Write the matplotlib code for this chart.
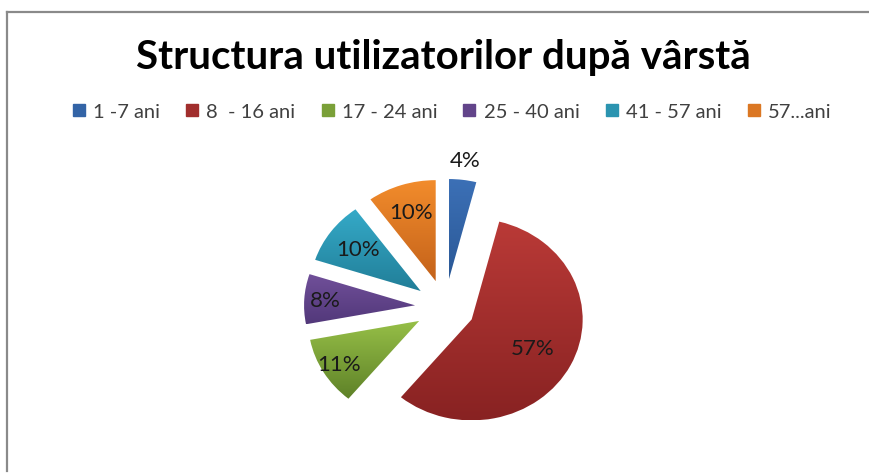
import matplotlib.pyplot as plt
import numpy as np
from matplotlib.colors import to_rgb
from matplotlib.lines import Line2D


GRUPE = ["1 -7 ani", "8  - 16 ani", "17 - 24 ani", "25 - 40 ani", "41 - 57 ani", "57...ani"]
PROCENTE = [4, 57, 11, 8, 10, 10]
TITLU = "Structura utilizatorilor după vârstă"

# culori in stil Excel: sus mai deschis, jos mai inchis
CULORI_SUS = ["#3C70B6", "#BA3A37", "#96BF47", "#71509A", "#35AAC8", "#F28C2C"]
CULORI_JOS = ["#2A5896", "#882222", "#5E8128", "#52387A", "#217E98", "#C4621A"]

# distanta etichetelor fata de centrul fiecarei felii (in raze)
DIST_ETICHETE = [1.2, 0.62, 0.84, 0.81, 0.70, 0.72]
FONT = "Lato"


def umple_gradient(ax, felie, sus, jos):
    sus = np.array(to_rgb(sus))
    jos = np.array(to_rgb(jos))
    t = np.linspace(0, 1, 200)[:, None, None]
    grad = sus * (1 - t) + jos * t

    ext = felie.get_path().get_extents()
    img = ax.imshow(
        grad,
        extent=(ext.x0, ext.x1, ext.y0, ext.y1),
        origin="upper",
        aspect="auto",
        interpolation="bilinear",
        zorder=2,
    )
    img.set_clip_path(felie)
    felie.set_facecolor("none")


def culoare_medie(a, b):
    return tuple((np.array(to_rgb(a)) + np.array(to_rgb(b))) / 2)


def main():
    fig = plt.figure(figsize=(8.7, 4.77), dpi=100)

    # axa pentru placinta: 1 unitate = 111 px pe x, 101 px pe y
    ax = fig.add_axes([0.2563, 0.0367, 0.5103, 0.635])
    felii, _ = ax.pie(
        PROCENTE,
        startangle=90,
        counterclock=False,
        explode=[0.27] * len(PROCENTE),
        wedgeprops=dict(linewidth=0),
    )

    for i, felie in enumerate(felii):
        umple_gradient(ax, felie, CULORI_SUS[i], CULORI_JOS[i])
        unghi = np.radians((felie.theta1 + felie.theta2) / 2)
        cx, cy = felie.center
        ax.text(
            cx + DIST_ETICHETE[i] * np.cos(unghi),
            cy + DIST_ETICHETE[i] * np.sin(unghi),
            f"{PROCENTE[i]}%",
            ha="center",
            va="center",
            fontsize=16,
            family=FONT,
            color="#1a1a1a",
            zorder=5,
        )

    ax.set_xlim(-2, 2)
    ax.set_ylim(-1.5, 1.5)
    ax.set_aspect("auto")
    ax.axis("off")

    fig.text(
        0.51, 1 - 57 / 477, TITLU,
        ha="center", va="center", fontsize=29, weight="bold", family=FONT, color="black",
    )

    marcaje = [
        Line2D([], [], marker="s", linestyle="none", markersize=8,
               color=culoare_medie(s, j))
        for s, j in zip(CULORI_SUS, CULORI_JOS)
    ]
    leg = fig.legend(
        marcaje,
        GRUPE,
        loc="center",
        bbox_to_anchor=(451 / 870, 1 - 112 / 477),
        ncol=6,
        frameon=False,
        prop=dict(family=FONT, size=14.5),
        handlelength=0.8,
        handletextpad=0.3,
        columnspacing=1.2,
    )
    for txt in leg.get_texts():
        txt.set_color("#404040")

    # chenarul graficului (doar sus si stanga)
    y_sus = 1 - 13 / 477
    x_st = 7 / 870
    fig.add_artist(Line2D([x_st, 1], [y_sus, y_sus], color="#8a8a8a", lw=1.6))
    fig.add_artist(Line2D([x_st, x_st], [y_sus, 5 / 477], color="#8a8a8a", lw=1.6))

    fig.savefig("out.png", dpi=100)


if __name__ == "__main__":
    main()
